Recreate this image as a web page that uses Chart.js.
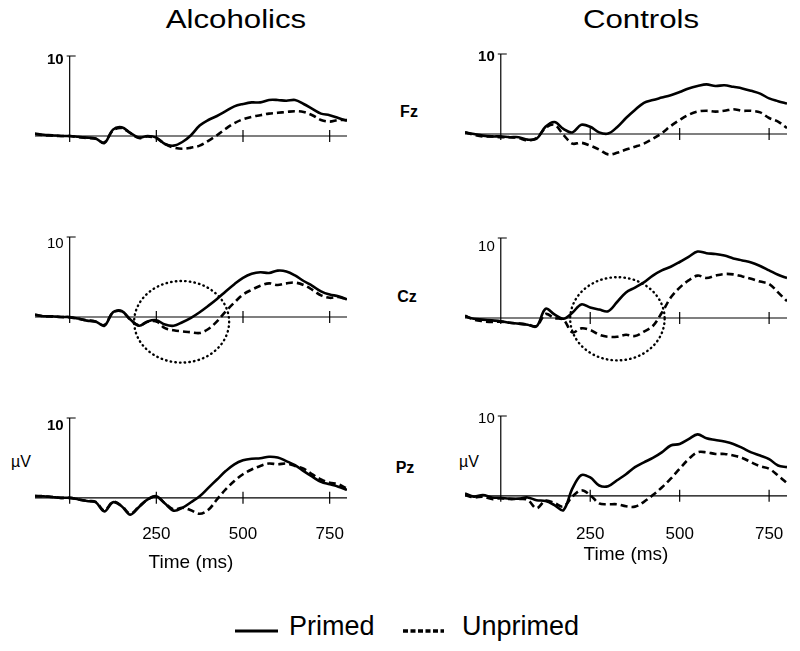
<!DOCTYPE html>
<html>
<head>
<meta charset="utf-8">
<title>ERP priming – Alcoholics vs Controls</title>
<script src="https://cdn.jsdelivr.net/npm/chart.js@4.4.0/dist/chart.umd.min.js"></script>
<style>
  body { margin: 0; background: #fff; }
  #page { position: relative; width: 800px; height: 651px; overflow: hidden; font-family: "Liberation Sans", Arial, sans-serif; color: #000; }
  canvas { position: absolute; }
  .lbl { position: absolute; white-space: nowrap; transform: translate(-50%, -50%); line-height: 1; }
  .title { font-size: 26px; transform: translate(-50%, -50%) scaleX(1.2); }
  .elec { font-size: 16px; font-weight: bold; }
  .unit { font-size: 16px; }
  .leg { position: absolute; font-size: 27px; line-height: 1; transform: translateY(-50%); white-space: nowrap; }
</style>
</head>
<body>
<div id="page">
  <div class="lbl title" style="left:236px; top:19px;">Alcoholics</div>
  <div class="lbl title" style="left:641px; top:19px;">Controls</div>
  <div class="lbl elec" style="left:409px; top:112px;">Fz</div>
  <div class="lbl elec" style="left:407px; top:297px;">Cz</div>
  <div class="lbl elec" style="left:405px; top:468px;">Pz</div>
  <div class="lbl unit" style="left:21px; top:462px;">µV</div>
  <div class="lbl unit" style="left:469px; top:462px;">µV</div>
  <svg style="position:absolute; left:0; top:600px;" width="800" height="50">
    <line x1="235" y1="31" x2="278" y2="31" stroke="#000" stroke-width="3"/>
    <line x1="403" y1="31" x2="444" y2="31" stroke="#000" stroke-width="3.5" stroke-dasharray="5,2.5"/>
  </svg>
  <div class="leg" style="left:289px; top:626px;">Primed</div>
  <div class="leg" style="left:462px; top:626px;">Unprimed</div>
</div>
<script>
// time axis (ms) and values (µV)
const times = [-100, -75, -50, -25, 0, 25, 50, 75, 100, 125, 150, 175, 200, 225, 250, 275, 300, 325, 350,
  375, 400, 425, 450, 475, 500, 525, 550, 575, 600, 625, 650, 675, 700, 725, 750, 775, 800];
const tickValues = [250, 500, 750];
const tickLabels = ['250', '500', '750'];

const alcFzPrimed = [0.3, 0.15, 0.1, 0, 0, -0.1, -0.2, -0.3, -0.9, 0.8, 1.1, 0.4, -0.2, 0, -0.2, -1.0, -1.2, -0.75, 0.1,
  1.3, 2.0, 2.5, 3.1, 3.7, 4.0, 4.2, 4.2, 4.5, 4.5, 4.4, 4.5, 4.0, 3.4, 2.8, 2.6, 2.25, 1.9];
const alcFzUnprimed = [0.25, 0.1, 0.05, 0, 0, -0.15, -0.25, -0.35, -0.8, 0.7, 1.0, 0.35, -0.25, -0.05, -0.3, -1.0, -1.45, -1.6, -1.45,
  -1.2, -0.6, 0.1, 0.9, 1.6, 2.1, 2.4, 2.6, 2.8, 2.9, 3.0, 3.1, 3.0, 2.6, 2.0, 1.8, 2.0, 2.0];
const conFzPrimed = [0.2, 0, -0.2, -0.3, -0.3, -0.4, -0.4, -0.7, -0.6, 0.9, 1.5, 0.65, 0.2, 1.15, 0.9, 0.2, 0.05, 0.85, 2.0,
  3.0, 3.9, 4.25, 4.55, 4.85, 5.25, 5.7, 6.0, 6.2, 6.0, 6.1, 5.9, 5.7, 5.4, 5.05, 4.45, 4.1, 3.8];
const conFzUnprimed = [0.2, -0.1, -0.3, -0.3, -0.4, -0.4, -0.5, -0.8, -0.5, 0.75, 1.15, -0.1, -1.2, -1.1, -1.45, -1.95, -2.55, -2.35, -1.95,
  -1.6, -1.2, -0.6, 0.1, 1.0, 1.75, 2.4, 2.8, 2.9, 2.8, 2.9, 3.1, 2.9, 2.9, 2.7, 2.0, 1.55, 0.75];

const alcCzPrimed = [0.3, 0.1, 0.1, 0, 0, -0.2, -0.45, -0.55, -1.1, 0.6, 0.75, -0.3, -1.1, -0.55, -0.4, -0.95, -1.1, -0.65, -0.1,
  0.6, 1.4, 2.25, 3.2, 4.1, 4.9, 5.4, 5.6, 5.5, 5.8, 5.7, 5.2, 4.5, 3.9, 3.2, 2.8, 2.6, 2.2];
const alcCzUnprimed = [0.25, 0.1, 0.05, 0, -0.05, -0.25, -0.4, -0.6, -1.0, 0.55, 0.7, -0.35, -1.05, -0.6, -0.55, -1.4, -1.65, -1.8, -1.9,
  -2.0, -1.5, -0.55, 0.7, 1.8, 2.8, 3.4, 3.9, 4.2, 4.0, 4.2, 4.3, 4.0, 3.4, 2.7, 2.4, 2.5, 2.2];
const conCzPrimed = [0.2, -0.1, -0.2, -0.3, -0.4, -0.6, -0.7, -0.85, -1.05, 1.15, 0.45, -0.1, 0.65, 1.7, 1.3, 1.05, 0.85, 2.0, 3.2,
  3.8, 4.45, 5.3, 5.95, 6.4, 7.0, 7.65, 8.3, 8.1, 8.0, 7.8, 7.45, 7.2, 6.95, 6.5, 5.95, 5.4, 5.0];
const conCzUnprimed = [0.3, -0.2, -0.4, -0.5, -0.45, -0.6, -0.7, -0.8, -1.0, 0.5, 0.0, -0.2, -1.8, -1.3, -1.5, -2.1, -2.35, -2.35, -2.1,
  -2.25, -1.7, -1.0, 0.65, 2.55, 3.8, 4.7, 5.3, 5.0, 5.3, 5.5, 5.45, 5.2, 4.9, 4.55, 4.25, 3.2, 2.1];

const alcPzPrimed = [0.2, 0.2, 0.1, 0, 0, -0.2, -0.4, -0.55, -1.7, -0.55, -1.05, -2.1, -1.15, -0.2, 0.2, -0.7, -1.6, -1.25, -0.55,
  0.2, 1.25, 2.3, 3.35, 4.2, 4.7, 4.9, 4.95, 5.15, 5.05, 4.6, 4.1, 3.35, 2.65, 2.0, 1.7, 1.4, 1.0];
const alcPzUnprimed = [0.25, 0.2, 0.1, 0, 0, -0.2, -0.4, -0.5, -1.6, -0.5, -1.0, -2.0, -1.1, -0.2, 0.15, -0.7, -1.45, -1.25, -1.55,
  -2.0, -1.5, -0.2, 1.05, 2.1, 2.95, 3.55, 4.0, 4.3, 4.2, 4.3, 4.0, 3.65, 2.95, 2.3, 1.9, 1.7, 1.15];
const conPzPrimed = [0.3, -0.1, 0.1, -0.2, -0.25, -0.35, -0.35, -0.2, -0.55, -0.65, -1.15, -1.8, 0.9, 2.6, 2.3, 1.3, 1.2, 1.95, 2.7,
  3.6, 4.2, 4.75, 5.45, 6.3, 6.5, 7.1, 7.7, 7.2, 7.0, 6.8, 6.5, 6.0, 5.45, 5.05, 4.6, 3.8, 3.6];
const conPzUnprimed = [0.1, -0.2, -0.1, -0.4, -0.3, -0.4, -0.4, -0.5, -1.55, -0.6, -0.9, -1.35, -0.1, 0.7, 0.1, -0.95, -1.05, -1.05, -1.3,
  -1.35, -0.75, 0.1, 1.05, 2.15, 3.4, 4.6, 5.45, 5.45, 5.25, 5.25, 5.05, 4.75, 4.2, 3.7, 3.4, 2.55, 1.6];

// dotted circles on Cz (centre and radii in ms / µV)
const alcCzCircle = { t: 323, v: -0.6, rt: 137, rv: 5.1 };
const conCzCircle = { t: 326, v: -0.1, rt: 132, rv: 5.2 };

const FONT = '"Liberation Sans", Arial, sans-serif';
const PX_PER_UV = 8;
const Y_MAX = 11;
const colLeft = [25, 455];
const colWidth = [327, 337];
const baselines = [[136, 317, 498], [134, 318, 496]];

const panels = [
  { col: 0, row: 0, primed: alcFzPrimed, unprimed: alcFzUnprimed, boldTen: true, tenOffset: 4 },
  { col: 1, row: 0, primed: conFzPrimed, unprimed: conFzUnprimed, boldTen: true, tenOffset: 3 },
  { col: 0, row: 1, primed: alcCzPrimed, unprimed: alcCzUnprimed, boldTen: false, tenOffset: 7, circle: alcCzCircle },
  { col: 1, row: 1, primed: conCzPrimed, unprimed: conCzUnprimed, boldTen: false, tenOffset: 9, circle: conCzCircle },
  { col: 0, row: 2, primed: alcPzPrimed, unprimed: alcPzUnprimed, boldTen: true, tenOffset: 8 },
  { col: 1, row: 2, primed: conPzPrimed, unprimed: conPzUnprimed, boldTen: false, tenOffset: 3 }
];

// zero lines, ticks, the short 0-10 µV bar and the cue circle
const erpAxes = {
  id: 'erpAxes',
  beforeDatasetsDraw(chart, args, opts) {
    const { ctx, chartArea } = chart;
    const x = chart.scales.x, y = chart.scales.y;
    const x0 = x.getPixelForValue(0);
    const y0 = y.getPixelForValue(0);
    const y10 = y.getPixelForValue(10);
    ctx.save();
    ctx.strokeStyle = '#000';
    ctx.lineWidth = 1.2;
    ctx.beginPath();
    ctx.moveTo(chartArea.left, y0);
    ctx.lineTo(chartArea.right, y0);
    ctx.moveTo(x0, y0 + 6);
    ctx.lineTo(x0, y10);
    ctx.moveTo(x0 - 3, y10);
    ctx.lineTo(x0 + 6, y10);
    tickValues.forEach(t => {
      const px = x.getPixelForValue(t);
      ctx.moveTo(px, y0 - 6);
      ctx.lineTo(px, y0 + 6);
    });
    ctx.stroke();
    ctx.fillStyle = '#000';
    ctx.font = (opts.boldTen ? 'bold ' : '') + '15px ' + FONT;
    ctx.textAlign = 'right';
    ctx.textBaseline = 'middle';
    ctx.fillText('10', x0 - 6, y10 + opts.tenOffset);
    ctx.restore();
  },
  afterDatasetsDraw(chart, args, opts) {
    const c = opts.circle;
    if (!c) return;
    const { ctx } = chart;
    const x = chart.scales.x, y = chart.scales.y;
    const cx = x.getPixelForValue(c.t), cy = y.getPixelForValue(c.v);
    const rx = Math.abs(x.getPixelForValue(c.t + c.rt) - cx);
    const ry = Math.abs(y.getPixelForValue(c.v + c.rv) - cy);
    ctx.save();
    ctx.strokeStyle = '#000';
    ctx.lineWidth = 2.4;
    ctx.lineCap = 'round';
    ctx.setLineDash([0.5, 4.2]);
    ctx.beginPath();
    ctx.ellipse(cx, cy, rx, ry, 0, 0, Math.PI * 2);
    ctx.stroke();
    ctx.restore();
  }
};

function toPoints(values) {
  return values.map((v, i) => ({ x: times[i], y: v }));
}

const page = document.getElementById('page');

panels.forEach(p => {
  const bottom = p.row === 2;
  const b = baselines[p.col][p.row];
  const yMin = bottom ? (p.col === 0 ? -2.975 : -3.6) : -6;
  const height = bottom ? (p.col === 0 ? 168 : 162) : 144;

  const canvas = document.createElement('canvas');
  canvas.width = colWidth[p.col];
  canvas.height = height;
  canvas.style.left = colLeft[p.col] + 'px';
  canvas.style.top = (b - Y_MAX * PX_PER_UV - 4) + 'px';
  page.appendChild(canvas);

  new Chart(canvas, {
    type: 'line',
    data: {
      datasets: [
        {
          label: 'Primed',
          data: toPoints(p.primed),
          borderColor: '#000',
          borderWidth: 2.6,
          pointRadius: 0,
          tension: 0.35
        },
        {
          label: 'Unprimed',
          data: toPoints(p.unprimed),
          borderColor: '#000',
          borderWidth: 2.6,
          borderDash: [7, 4],
          pointRadius: 0,
          tension: 0.35
        }
      ]
    },
    options: {
      responsive: false,
      animation: false,
      layout: { padding: { left: 10, right: 5, top: 4, bottom: bottom ? 0 : 4 } },
      plugins: {
        legend: { display: false },
        tooltip: { enabled: false },
        erpAxes: { boldTen: p.boldTen, tenOffset: p.tenOffset, circle: p.circle || null }
      },
      scales: {
        x: {
          type: 'linear',
          min: -100,
          max: 800,
          display: bottom,
          afterBuildTicks: s => { s.ticks = tickValues.map(v => ({ value: v })); },
          ticks: {
            autoSkip: false,
            maxRotation: 0,
            padding: p.col === 0 ? 3 : 0,
            color: '#000',
            font: { family: FONT, size: 17 },
            callback: v => tickLabels[tickValues.indexOf(v)]
          },
          grid: { display: false, drawTicks: false },
          border: { display: false },
          title: {
            display: true,
            text: 'Time (ms)',
            color: '#000',
            font: { family: FONT, size: 19, lineHeight: 1 },
            padding: { top: p.col === 0 ? 5 : 0, bottom: 2 }
          }
        },
        y: {
          type: 'linear',
          min: yMin,
          max: Y_MAX,
          display: false
        }
      }
    },
    plugins: [erpAxes]
  });
});
</script>
</body>
</html>
